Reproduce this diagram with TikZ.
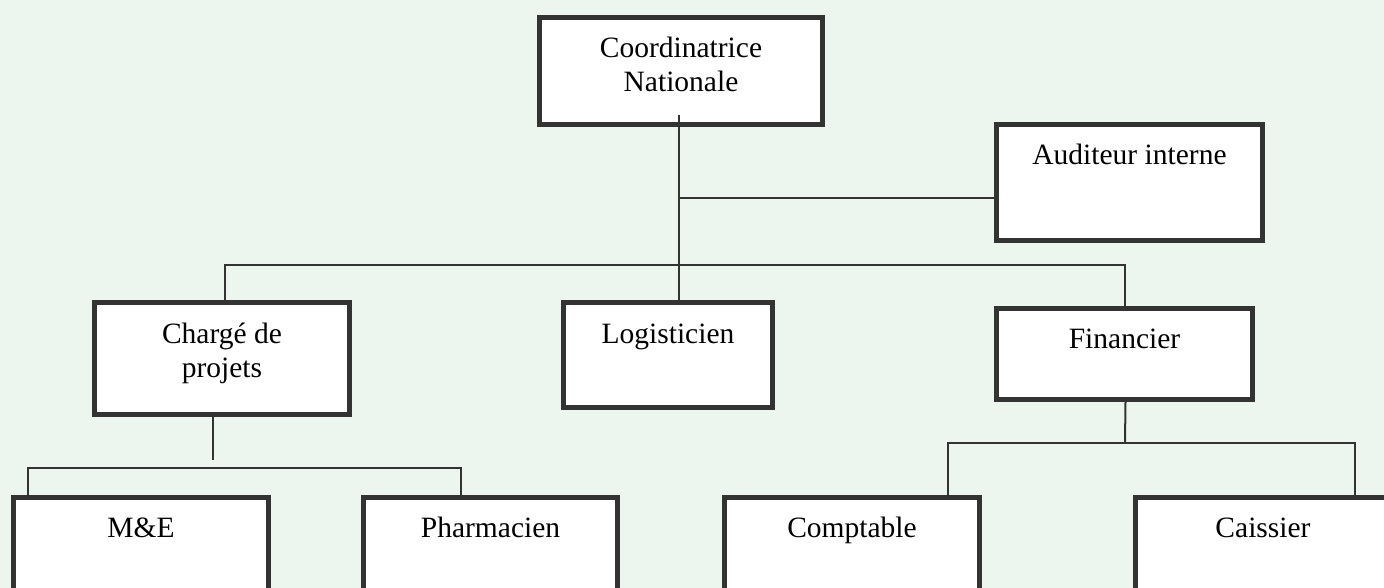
\documentclass[tikz,border=0pt]{standalone}
\usepackage{fontspec}
\setmainfont{Liberation Serif}
\definecolor{bgc}{HTML}{EDF6EE}
\definecolor{edgec}{HTML}{333333}
\begin{document}
\begin{tikzpicture}[x=1pt,y=-1pt,
  box/.style={draw=edgec, line width=5pt, fill=white, inner sep=0pt, rectangle},
  lbl/.style={font=\fontsize{29.5}{34}\selectfont, text=black, inner sep=0pt, align=center, anchor=base},
  conn/.style={draw=edgec, line width=2pt}]
\useasboundingbox (0,0) rectangle (1384,588);
\fill[bgc] (0,0) rectangle (1384,588);
\clip (0,0) rectangle (1384,588);
% boxes
\node[box, minimum width=283, minimum height=107] (coord) at (681,71) {};
\node[box, minimum width=266, minimum height=116] (aud) at (1129.5,182.5) {};
\node[box, minimum width=255, minimum height=112] (charge) at (222,358.5) {};
\node[box, minimum width=209, minimum height=105] (logist) at (668,355) {};
\node[box, minimum width=256, minimum height=91] (fin) at (1124.5,354) {};
\node[box, minimum width=255, minimum height=140] (me) at (141,567.5) {};
\node[box, minimum width=254, minimum height=140] (pharm) at (490.5,567.5) {};
\node[box, minimum width=255, minimum height=140] (compt) at (852,567.5) {};
\node[box, minimum width=255, minimum height=140] (caiss) at (1263,567.5) {};
% labels (base = baseline of the last line)
\node[lbl] (coordT) at ([yshift=-77pt]coord.north) {Coordinatrice\\Nationale};
\node[lbl] (audT) at ([yshift=-43pt]aud.north) {Auditeur interne};
\node[lbl] (chargeT) at ([yshift=-77pt]charge.north) {Chargé de\\projets};
\node[lbl] (logistT) at ([yshift=-43pt]logist.north) {Logisticien};
\node[lbl] (finT) at ([yshift=-42pt]fin.north) {Financier};
\node[lbl] (meT) at ([yshift=-42pt]me.north) {M\&E};
\node[lbl] (pharmT) at ([yshift=-42pt]pharm.north) {Pharmacien};
\node[lbl] (comptT) at ([yshift=-42pt]compt.north) {Comptable};
\node[lbl] (caissT) at ([yshift=-42pt]caiss.north) {Caissier};
% connector points
\coordinate (trunk) at (679,115);
\coordinate (audj) at (679,198);
\coordinate (busL) at (225,265);
\coordinate (busR) at (1125,265);
\coordinate (chargeEnd) at (213,460);
\coordinate (busA) at (28,468);
\coordinate (busB) at (461,468);
\coordinate (finJ) at (1125,443);
\coordinate (busC) at (948,443);
\coordinate (busD) at (1355,443);
% connectors
\draw[conn] (trunk) -- (trunk |- logist.north);
\draw[conn] (audj) -- (audj -| aud.west);
\draw[conn] (charge.north -| busL) -- (busL) -- (busR) -- (busR |- fin.north);
\draw[conn] (chargeEnd |- charge.south) -- (chargeEnd);
\draw[conn] (me.north -| busA) -- (busA) -- (busB) -- (busB |- pharm.north);
\draw[conn] ([xshift=1pt]fin.south |- fin.south) -- (finJ);
\draw[conn] (compt.north -| busC) -- (busC) -- (busD) -- (busD |- caiss.north);
\end{tikzpicture}
\end{document}
